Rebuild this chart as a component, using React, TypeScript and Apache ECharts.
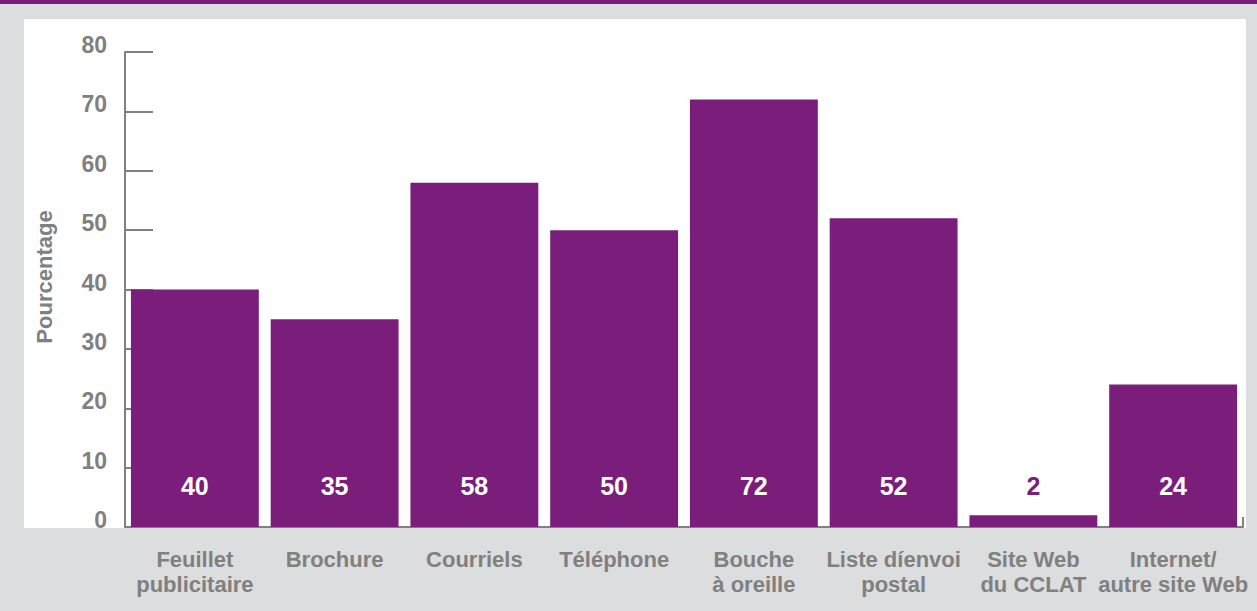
import React, { useEffect, useRef } from "react";
import * as echarts from "echarts";

const categories = [
  "Feuillet\npublicitaire",
  "Brochure",
  "Courriels",
  "Téléphone",
  "Bouche\nà oreille",
  "Liste díenvoi\npostal",
  "Site Web\ndu CCLAT",
  "Internet/\nautre site Web",
];
const values = [40, 35, 58, 50, 72, 52, 2, 24];
const yTicks = { min: 0, max: 80, interval: 10 };
const axisTitle = "Pourcentage";

const PURPLE = "#7b1e7b";
const GRAY = "#808080";
const SANS = "'Liberation Sans', Arial, sans-serif";

export default function App() {
  const ref = useRef<HTMLDivElement>(null);
  useEffect(() => {
    if (!ref.current) return;
    const chart = echarts.init(ref.current, undefined, { renderer: "svg" });
    chart.setOption({
      animation: false,
      backgroundColor: "#dcdddf",
      graphic: [
        { type: "rect", z: -10, shape: { x: 0, y: 0, width: 1257, height: 4 }, style: { fill: PURPLE } },
        { type: "rect", z: -10, shape: { x: 24, y: 19, width: 1222, height: 509 }, style: { fill: "#ffffff" } },
        {
          type: "text",
          x: 44,
          y: 277,
          rotation: Math.PI / 2,
          style: {
            text: axisTitle,
            fill: GRAY,
            font: `bold 22px ${SANS}`,
            align: "center",
            verticalAlign: "middle",
          },
        },
      ],
      grid: { left: 125, width: 1118, top: 52, height: 475, containLabel: false },
      xAxis: {
        type: "category",
        data: categories,
        axisLine: { show: true, lineStyle: { color: GRAY, width: 2 } },
        axisTick: {
          show: true,
          inside: true,
          length: 10,
          interval: (i: number) => i === categories.length - 1,
          lineStyle: { color: GRAY, width: 2 },
        },
        axisLabel: {
          interval: 0,
          margin: 20,
          color: GRAY,
          fontFamily: SANS,
          fontWeight: "bold",
          fontSize: 22,
          lineHeight: 25,
        },
      },
      yAxis: {
        type: "value",
        min: yTicks.min,
        max: yTicks.max,
        interval: yTicks.interval,
        splitLine: { show: false },
        axisLine: { show: true, lineStyle: { color: GRAY, width: 2 } },
        axisTick: { show: true, inside: true, length: 28, lineStyle: { color: GRAY, width: 2 } },
        axisLabel: {
          margin: 18,
          color: GRAY,
          fontFamily: SANS,
          fontWeight: "bold",
          fontSize: 23,
          verticalAlign: "bottom",
          lineHeight: 14,
        },
      },
      series: [
        {
          type: "bar",
          data: values.map((v) => ({
            value: v,
            label: { color: v < 10 ? PURPLE : "#ffffff" },
          })),
          barCategoryGap: "8.5%",
          itemStyle: { color: PURPLE },
          label: {
            show: true,
            position: "insideBottom",
            distance: 29,
            fontFamily: SANS,
            fontWeight: "bold",
            fontSize: 25,
          },
        },
      ],
    });
    return () => chart.dispose();
  }, []);
  return (
    <div
      ref={ref}
      style={{ position: "fixed", left: 0, top: 0, width: 1257, height: 611 }}
    />
  );
}
